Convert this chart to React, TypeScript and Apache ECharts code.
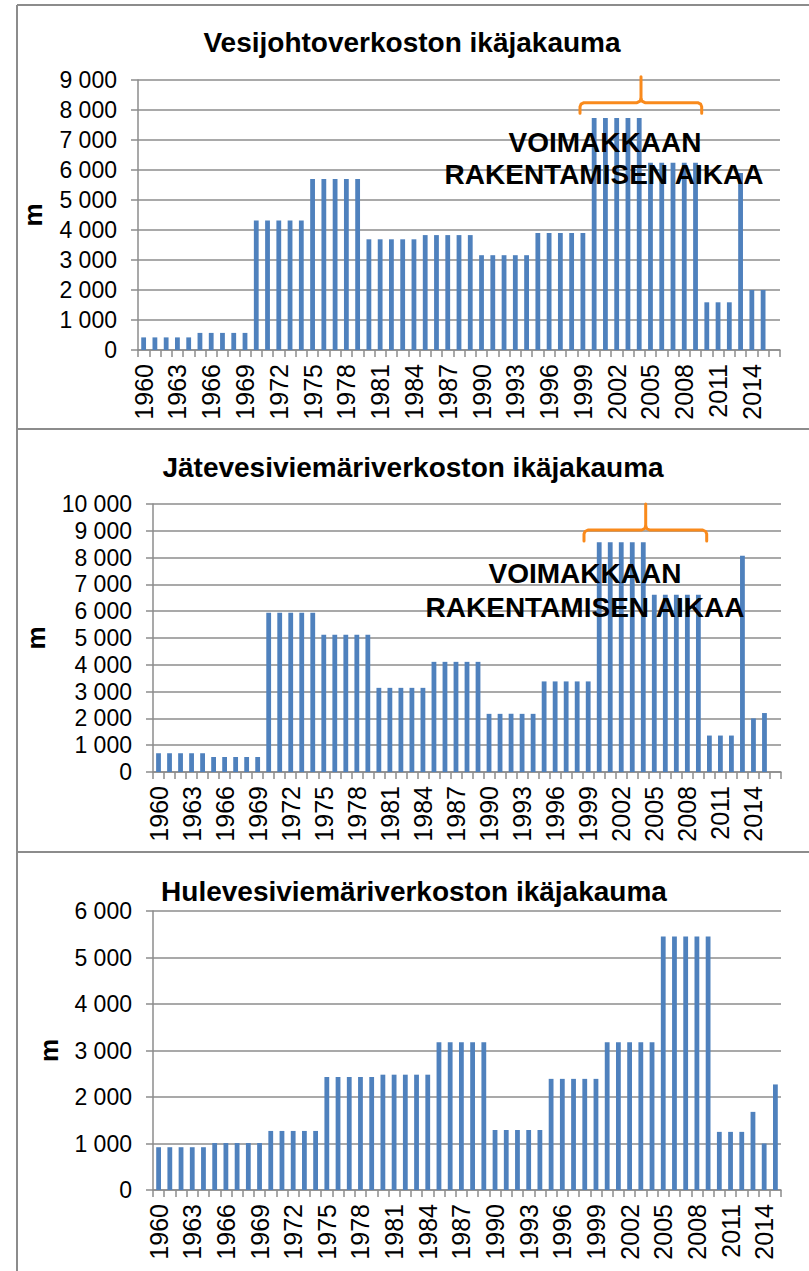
import React, { useEffect, useRef } from "react";
import * as echarts from "echarts";

// Categories (years). Panels 1 and 2 have one extra empty slot at the end.
const yearsA: string[] = Array.from({ length: 57 }, (_, i) => String(1960 + i));
const yearsB: string[] = Array.from({ length: 56 }, (_, i) => String(1960 + i));

const titles = [
  "Vesijohtoverkoston ikäjakauma",
  "Jätevesiviemäriverkoston ikäjakauma",
  "Hulevesiviemäriverkoston ikäjakauma",
];

const noteLine1 = "VOIMAKKAAN";
const noteLine2 = "RAKENTAMISEN AIKAA";
const unitName = "m";

// Vesijohtoverkosto (m)
const waterValues: (number | null)[] = [
  420, 420, 420, 420, 420,
  570, 570, 570, 570, 570,
  4320, 4320, 4320, 4320, 4320,
  5700, 5700, 5700, 5700, 5700,
  3690, 3690, 3690, 3690, 3690,
  3830, 3830, 3830, 3830, 3830,
  3160, 3160, 3160, 3160, 3160,
  3900, 3900, 3900, 3900, 3900,
  7730, 7730, 7730, 7730, 7730,
  6240, 6240, 6240, 6240, 6240,
  1590, 1590, 1590,
  5900, 2000, 2000,
  null,
];

// Jätevesiviemäriverkosto (m)
const sewerValues: (number | null)[] = [
  700, 700, 700, 700, 700,
  560, 560, 560, 560, 560,
  5940, 5940, 5940, 5940, 5940,
  5120, 5120, 5120, 5120, 5120,
  3140, 3140, 3140, 3140, 3140,
  4110, 4110, 4110, 4110, 4110,
  2170, 2170, 2170, 2170, 2170,
  3380, 3380, 3380, 3380, 3380,
  8570, 8570, 8570, 8570, 8570,
  6610, 6610, 6610, 6610, 6610,
  1360, 1360, 1360,
  8070, 2000, 2200,
  null,
];

// Hulevesiviemäriverkosto (m)
const stormValues: number[] = [
  920, 920, 920, 920, 920,
  1010, 1010, 1010, 1010, 1010,
  1270, 1270, 1270, 1270, 1270,
  2430, 2430, 2430, 2430, 2430,
  2480, 2480, 2480, 2480, 2480,
  3180, 3180, 3180, 3180, 3180,
  1290, 1290, 1290, 1290, 1290,
  2390, 2390, 2390, 2390, 2390,
  3180, 3180, 3180, 3180, 3180,
  5450, 5450, 5450, 5450, 5450,
  1250, 1250, 1250,
  1680, 1000, 2270,
];

const yMax = [9000, 10000, 6000];

const FONT = '"Liberation Sans", Arial, sans-serif';
const GRAY = "#8c8c8c";
const BAR = "#4F81BD";
const ORANGE = "#F98A1C";

const fmt = (v: number) => (v === 0 ? "0" : `${v / 1000} 000`);

function textEl(text: string, x: number, y: number, size: number) {
  return {
    type: "text",
    z: 100,
    x,
    y,
    style: {
      text,
      fill: "#000",
      font: `bold ${size}px ${FONT}`,
      fontSize: size,
      fontWeight: "bold",
      fontFamily: FONT,
      align: "center",
      verticalAlign: "middle",
      textAlign: "center",
      textVerticalAlign: "middle",
    },
  };
}

function lineEl(x1: number, y1: number, x2: number, y2: number) {
  return {
    type: "line",
    z: 90,
    shape: { x1, y1, x2, y2 },
    style: { stroke: GRAY, lineWidth: 2 },
  };
}

function bracket(xl: number, xr: number, xc: number, yh: number, yb: number, yt: number) {
  const st = { stroke: ORANGE, lineWidth: 3, fill: null, lineJoin: "round", lineCap: "round" };
  return [
    {
      type: "polyline",
      z: 100,
      shape: {
        points: [
          [xl, yb], [xl, yh + 4], [xl + 1, yh + 1.5], [xl + 4, yh],
          [xc - 4, yh], [xc - 1, yh - 1.5], [xc, yh - 4], [xc, yt],
        ],
      },
      style: st,
    },
    {
      type: "polyline",
      z: 100,
      shape: {
        points: [
          [xr, yb], [xr, yh + 4], [xr - 1, yh + 1.5], [xr - 4, yh],
          [xc + 4, yh], [xc + 1, yh - 1.5], [xc, yh - 4],
        ],
      },
      style: st,
    },
  ];
}

export default function App() {
  const ref = useRef<HTMLDivElement>(null);

  useEffect(() => {
    if (!ref.current) return;
    const chart = echarts.init(ref.current, null, { renderer: "svg" });

    const grids = [
      { left: 138, top: 80, width: 642, height: 270 },
      { left: 153, top: 504, width: 628, height: 268 },
      { left: 153, top: 911, width: 628, height: 279 },
    ];
    const cats = [yearsA, yearsA, yearsB];
    const datas = [waterValues, sewerValues, stormValues];
    const nameGaps = [92, 104, 91];

    const option: any = {
      animation: false,
      backgroundColor: "#fff",
      grid: grids.map((g) => ({ ...g, containLabel: false })),
      xAxis: cats.map((c, i) => ({
        type: "category",
        gridIndex: i,
        data: c,
        boundaryGap: true,
        axisLine: { show: true, lineStyle: { color: GRAY, width: 1.5 } },
        axisTick: { show: true, interval: 0, length: 7, lineStyle: { color: GRAY, width: 1.5 } },
        axisLabel: {
          interval: 2,
          rotate: 90,
          margin: 14,
          fontSize: 25,
          color: "#000",
          fontFamily: FONT,
        },
        splitLine: { show: false },
      })),
      yAxis: yMax.map((m, i) => ({
        type: "value",
        gridIndex: i,
        min: 0,
        max: m,
        interval: 1000,
        name: unitName,
        nameLocation: "middle",
        nameGap: nameGaps[i],
        nameTextStyle: { fontSize: 26, fontWeight: "bold", color: "#000", fontFamily: FONT },
        axisLine: { show: true, lineStyle: { color: GRAY, width: 1.5 } },
        axisTick: { show: true, length: 7, lineStyle: { color: GRAY, width: 1.5 } },
        axisLabel: { margin: 21, fontSize: 23, color: "#000", fontFamily: FONT, formatter: fmt },
        splitLine: { show: true, lineStyle: { color: GRAY, width: 1.5 } },
      })),
      series: datas.map((d, i) => ({
        type: "bar",
        xAxisIndex: i,
        yAxisIndex: i,
        data: d,
        barWidth: 4.8,
        itemStyle: { color: BAR },
      })),
      graphic: [
        lineEl(17, 5, 809, 5),
        lineEl(17, 5, 17, 1271),
        lineEl(17, 429, 809, 429),
        lineEl(17, 852, 809, 852),
        textEl(titles[0], 412, 42, 28),
        textEl(titles[1], 413, 467, 28),
        textEl(titles[2], 414, 891, 28),
        textEl(noteLine1, 605, 142, 28),
        textEl(noteLine2, 604, 174, 28),
        textEl(noteLine1, 585, 573, 28),
        textEl(noteLine2, 585, 607, 28),
        ...bracket(580, 701.7, 641, 102.7, 113.3, 76.7),
        ...bracket(584, 706.7, 645.7, 530, 541, 504),
      ],
    };

    chart.setOption(option);
    return () => chart.dispose();
  }, []);

  return (
    <div
      ref={ref}
      style={{ position: "absolute", left: 0, top: 0, width: 809, height: 1271, background: "#fff" }}
    />
  );
}
